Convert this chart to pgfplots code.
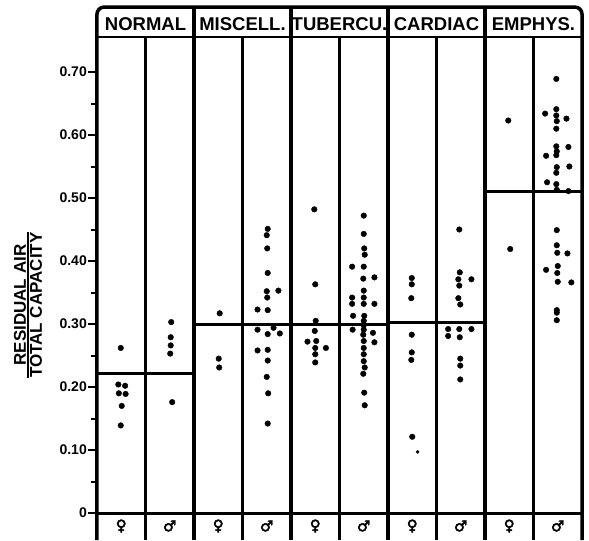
\documentclass[border=0pt]{standalone}
\usepackage{fontspec}
\setmainfont{Liberation Sans}
\newfontfamily\symfont[FakeBold=3]{DejaVu Sans}
\usepackage{pgfplots}
\pgfplotsset{compat=1.18}
\begin{document}
\begin{tikzpicture}
\begin{axis}[
  x=48.5pt, y=630pt,
  xmin=0, xmax=10, ymin=-0.0429, ymax=0.8143,
  axis line style={draw=none},
  xtick=\empty,
  ytick={0,0.1,0.2,0.3,0.4,0.5,0.6,0.7},
  yticklabels={0,0.10,0.20,0.30,0.40,0.50,0.60,0.70},
  minor ytick={0.05,0.15,0.25,0.35,0.45,0.55,0.65},
  ytick pos=left,
  tick align=outside,
  major tick length=9pt, minor tick length=6pt,
  tick style={black, line width=2pt},
  yticklabel style={font=\fontsize{14}{14}\selectfont\bfseries, inner sep=1pt},
  /pgf/number format/assume math mode=true,
  clip=false,
]
% frame
\draw[line width=3.5pt, rounded corners=7pt] (axis cs:0,-0.0429) -- (axis cs:0,0.803) -- (axis cs:10,0.803) -- (axis cs:10,-0.0429);
\draw[line width=3.5pt] (axis cs:2,-0.0429) -- (axis cs:2,0.803);
\draw[line width=3.5pt] (axis cs:4,-0.0429) -- (axis cs:4,0.803);
\draw[line width=3.5pt] (axis cs:6,-0.0429) -- (axis cs:6,0.803);
\draw[line width=3.5pt] (axis cs:8,-0.0429) -- (axis cs:8,0.803);
\draw[line width=2.3pt] (axis cs:1,-0.0429) -- (axis cs:1,0.7556);
\draw[line width=2.3pt] (axis cs:3,-0.0429) -- (axis cs:3,0.7556);
\draw[line width=2.3pt] (axis cs:5,-0.0429) -- (axis cs:5,0.7556);
\draw[line width=2.3pt] (axis cs:7,-0.0429) -- (axis cs:7,0.7556);
\draw[line width=2.3pt] (axis cs:9,-0.0429) -- (axis cs:9,0.7556);
\draw[line width=2.5pt] (axis cs:0,0.7556) -- (axis cs:10,0.7556);
\draw[line width=3pt] (axis cs:0,0) -- (axis cs:10,0);
% headers
\node[font=\fontsize{18.5}{18.5}\selectfont\bfseries] at (axis cs:1,0.7755) {NORMAL};
\node[font=\fontsize{18.5}{18.5}\selectfont\bfseries] at (axis cs:3,0.7755) {MISCELL.};
\node[font=\fontsize{18.5}{18.5}\selectfont\bfseries] at (axis cs:5,0.7755) {TUBERCU.};
\node[font=\fontsize{18.5}{18.5}\selectfont\bfseries] at (axis cs:7,0.7755) {CARDIAC};
\node[font=\fontsize{18.5}{18.5}\selectfont\bfseries] at (axis cs:9,0.7755) {EMPHYS.};
% sex symbols
\node[font=\fontsize{15}{15}\selectfont\symfont] at (axis cs:0.5,-0.0206) {♀};
\node[font=\fontsize{15}{15}\selectfont\symfont] at (axis cs:1.5,-0.0206) {♂};
\node[font=\fontsize{15}{15}\selectfont\symfont] at (axis cs:2.5,-0.0206) {♀};
\node[font=\fontsize{15}{15}\selectfont\symfont] at (axis cs:3.5,-0.0206) {♂};
\node[font=\fontsize{15}{15}\selectfont\symfont] at (axis cs:4.5,-0.0206) {♀};
\node[font=\fontsize{15}{15}\selectfont\symfont] at (axis cs:5.5,-0.0206) {♂};
\node[font=\fontsize{15}{15}\selectfont\symfont] at (axis cs:6.5,-0.0206) {♀};
\node[font=\fontsize{15}{15}\selectfont\symfont] at (axis cs:7.5,-0.0206) {♂};
\node[font=\fontsize{15}{15}\selectfont\symfont] at (axis cs:8.5,-0.0206) {♀};
\node[font=\fontsize{15}{15}\selectfont\symfont] at (axis cs:9.5,-0.0206) {♂};
% y label
\node[rotate=90, font=\fontsize{17}{19}\selectfont\bfseries] at (axis cs:-1.38,0.33)
  {\setlength{\arrayrulewidth}{2pt}\begin{tabular}{@{}c@{}}RESIDUAL AIR\\[-5pt]\hline TOTAL CAPACITY\end{tabular}};
% group mean lines
\addplot[line width=3pt, no marks] coordinates {(0,0.222) (2,0.222)};
\addplot[line width=3pt, no marks] coordinates {(2,0.300) (4,0.300)};
\addplot[line width=3pt, no marks] coordinates {(4,0.299) (6,0.299)};
\addplot[line width=3pt, no marks] coordinates {(6,0.302) (8,0.302)};
\addplot[line width=3pt, no marks] coordinates {(8,0.511) (10,0.511)};
% individual values
\addplot[only marks, mark=*, mark size=2.8pt, black] table {
x y
0.49 0.262
0.44 0.204
0.58 0.202
0.45 0.190
0.59 0.189
0.51 0.170
0.49 0.139
1.53 0.303
1.52 0.279
1.52 0.266
1.51 0.253
1.55 0.176
2.53 0.317
2.51 0.245
2.52 0.231
3.52 0.451
3.50 0.441
3.51 0.420
3.52 0.381
3.50 0.352
3.74 0.353
3.51 0.342
3.31 0.323
3.52 0.322
3.31 0.291
3.64 0.294
3.52 0.284
3.77 0.285
3.31 0.258
3.52 0.259
3.52 0.242
3.50 0.216
3.53 0.190
3.52 0.142
4.48 0.482
4.50 0.363
4.51 0.305
4.49 0.289
4.34 0.272
4.52 0.273
4.72 0.262
4.50 0.262
4.50 0.252
4.50 0.239
5.50 0.472
5.50 0.443
5.51 0.420
5.52 0.410
5.26 0.391
5.50 0.391
5.49 0.372
5.72 0.374
5.50 0.353
5.26 0.342
5.50 0.342
5.26 0.332
5.50 0.332
5.72 0.332
5.28 0.313
5.51 0.313
5.50 0.305
5.50 0.298
5.27 0.291
5.50 0.291
5.69 0.286
5.49 0.283
5.50 0.273
5.72 0.271
5.50 0.262
5.50 0.252
5.50 0.241
5.52 0.231
5.49 0.221
5.51 0.191
5.52 0.171
6.49 0.373
6.49 0.363
6.48 0.341
6.49 0.283
6.49 0.255
6.48 0.243
6.50 0.121
7.47 0.450
7.48 0.382
7.45 0.371
7.72 0.371
7.47 0.361
7.45 0.341
7.49 0.331
7.24 0.292
7.47 0.292
7.72 0.292
7.24 0.281
7.48 0.279
7.49 0.245
7.49 0.234
7.49 0.212
8.48 0.623
8.52 0.419
9.47 0.689
9.24 0.634
9.47 0.641
9.47 0.631
9.48 0.622
9.68 0.626
9.47 0.610
9.47 0.582
9.72 0.581
9.48 0.574
9.26 0.567
9.47 0.568
9.48 0.549
9.74 0.550
9.47 0.540
9.28 0.525
9.47 0.522
9.48 0.513
9.72 0.511
9.48 0.449
9.48 0.425
9.49 0.413
9.70 0.412
9.50 0.392
9.26 0.386
9.49 0.381
9.50 0.367
9.78 0.366
9.48 0.322
9.48 0.318
9.48 0.306
};
\addplot[only marks, mark=*, mark size=1.6pt, black] coordinates {(6.61,0.097)};
\coordinate (bbl) at (axis cs:-2,-0.0429);
\coordinate (btr) at (axis cs:10.1443,0.8143);
\end{axis}
\pgfresetboundingbox
\path (bbl) rectangle (btr);
\end{tikzpicture}
\end{document}
